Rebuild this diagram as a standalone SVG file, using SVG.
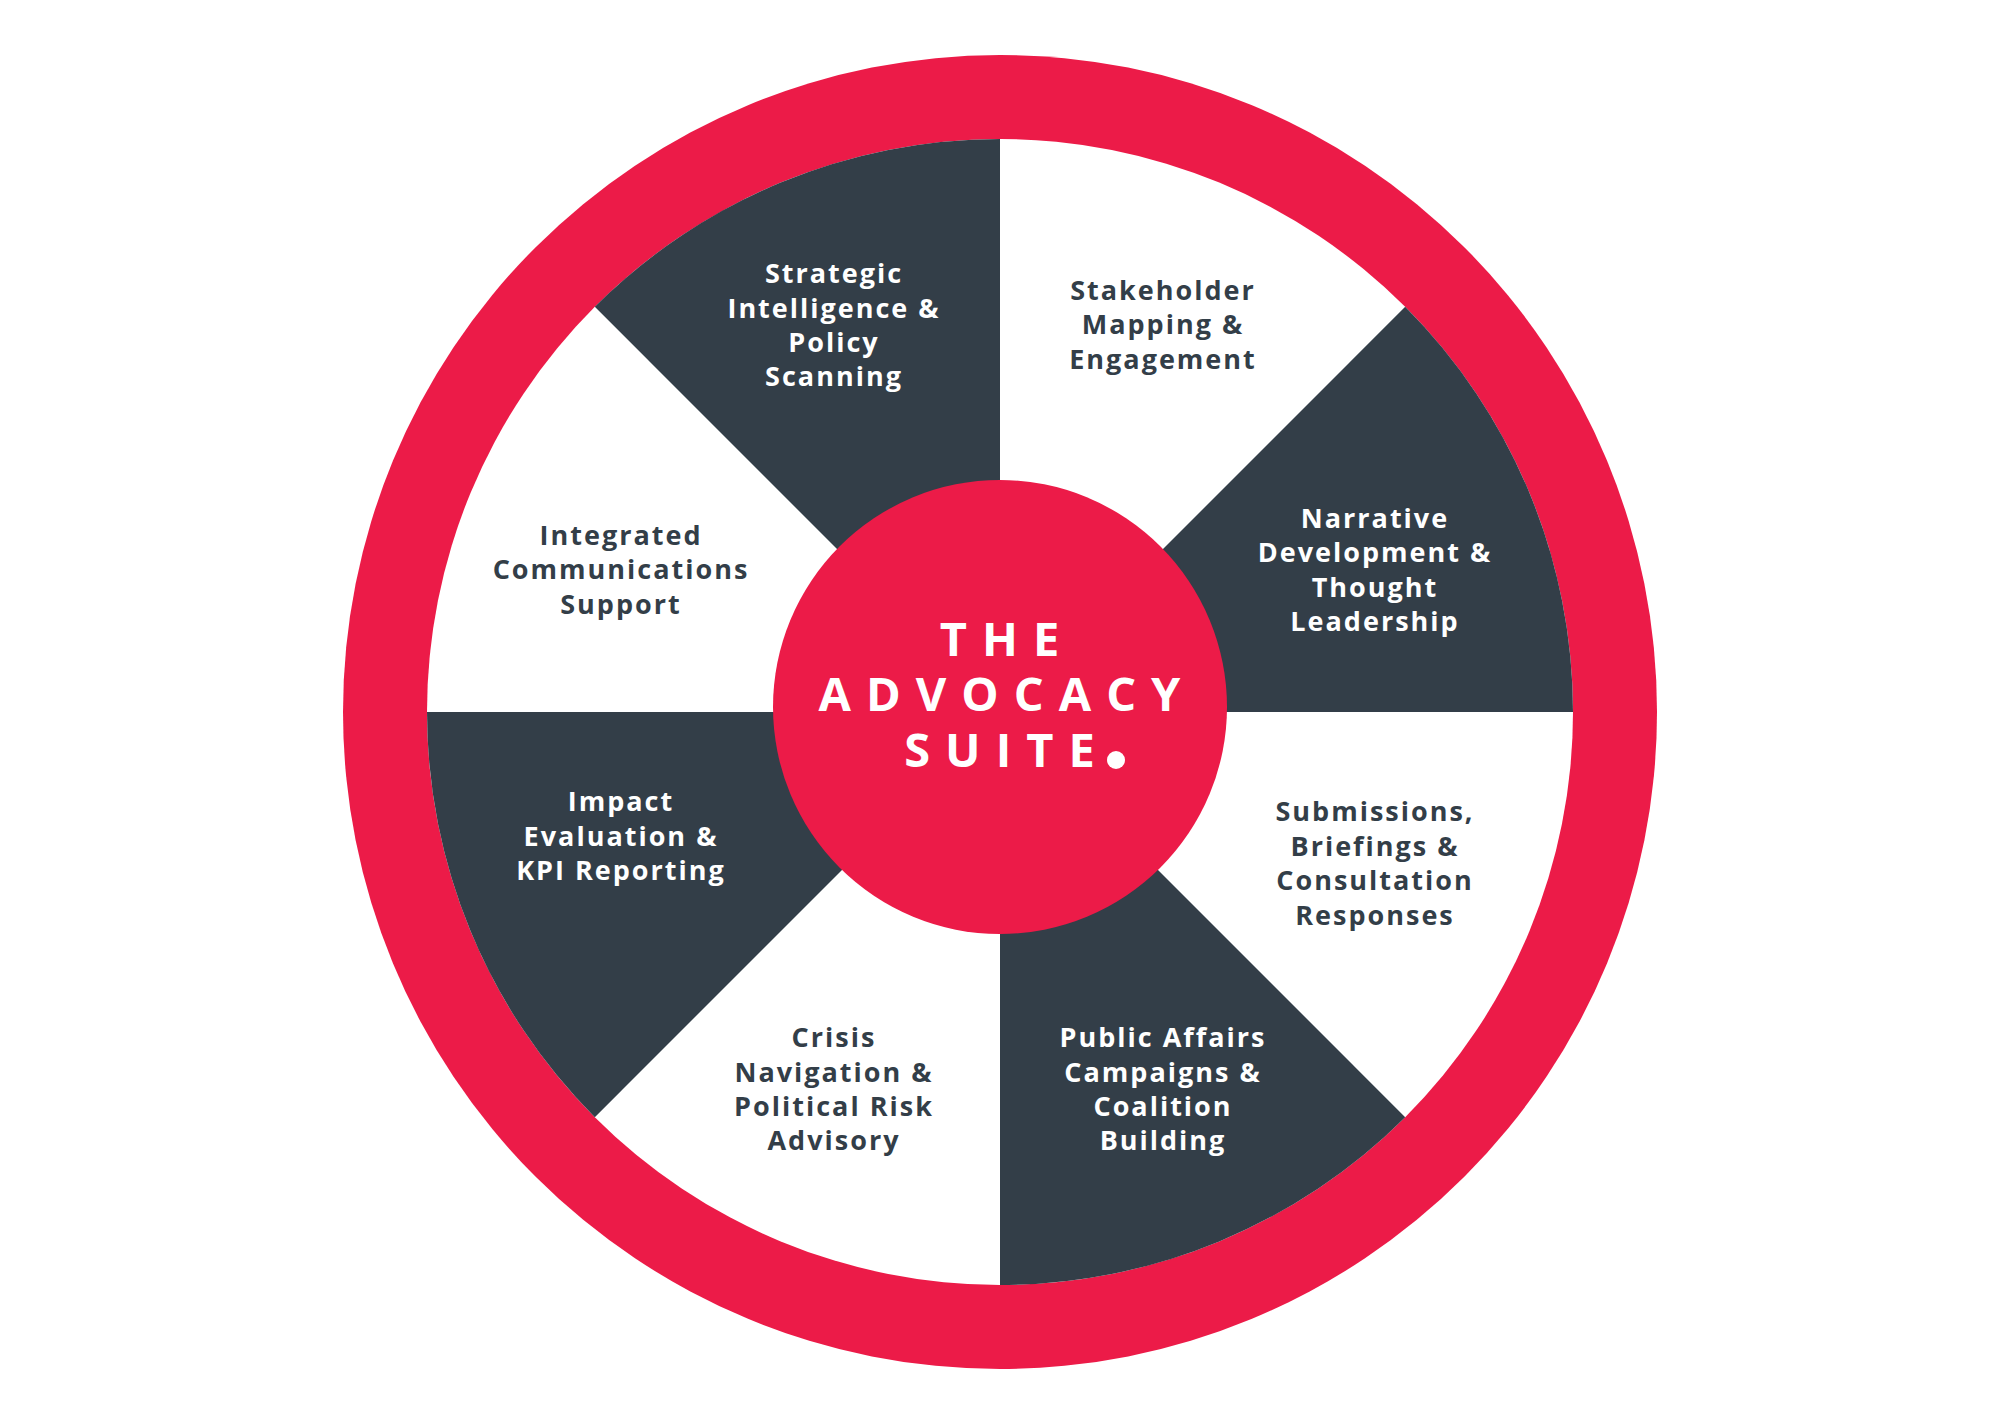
<svg xmlns="http://www.w3.org/2000/svg" width="2000" height="1414" viewBox="0 0 2000 1414">
<style>
.l{font-family:"Open Sans","Liberation Sans",sans-serif;font-weight:700;font-size:27px;letter-spacing:2px;text-anchor:middle}
.d{fill:#333E48}.w{fill:#ffffff}
.t{font-family:"Open Sans","Liberation Sans",sans-serif;font-weight:700;font-size:47px;letter-spacing:15px;fill:#fff;text-anchor:middle}
</style>
<rect width="2000" height="1414" fill="#fff"/>
<g id="ring"><circle cx="1000" cy="712" r="657" fill="#EC1B48"/><circle cx="1000" cy="712" r="573" fill="#fff"/></g>
<g id="sectors" class="d">
<path d="M1000,712 L1000,139 A573,573 0 0 0 594.8,306.8 Z"/>
<path d="M1000,712 L1405.2,306.8 A573,573 0 0 1 1573,712 Z"/>
<path d="M1000,712 L1000,1285 A573,573 0 0 0 1405.2,1117.2 Z"/>
<path d="M1000,712 L427,712 A573,573 0 0 0 594.8,1117.2 Z"/>
</g>
<g id="n1" class="l w"><text x="834" y="283">Strategic</text><text x="834" y="318">Intelligence &amp;</text><text x="834" y="352">Policy</text><text x="834" y="386">Scanning</text></g>
<g id="n2" class="l d"><text x="1163" y="300">Stakeholder</text><text x="1163" y="334">Mapping &amp;</text><text x="1163" y="369">Engagement</text></g>
<g id="n3" class="l w"><text x="1375" y="528">Narrative</text><text x="1375" y="562">Development &amp;</text><text x="1375" y="597">Thought</text><text x="1375" y="631">Leadership</text></g>
<g id="n4" class="l d"><text x="1375" y="821">Submissions,</text><text x="1375" y="856">Briefings &amp;</text><text x="1375" y="890">Consultation</text><text x="1375" y="925">Responses</text></g>
<g id="n5" class="l w"><text x="1163" y="1047">Public Affairs</text><text x="1163" y="1082">Campaigns &amp;</text><text x="1163" y="1116">Coalition</text><text x="1163" y="1150">Building</text></g>
<g id="n6" class="l d"><text x="834" y="1047">Crisis</text><text x="834" y="1082">Navigation &amp;</text><text x="834" y="1116">Political Risk</text><text x="834" y="1150">Advisory</text></g>
<g id="n7" class="l w"><text x="621" y="811">Impact</text><text x="621" y="846">Evaluation &amp;</text><text x="621" y="880">KPI Reporting</text></g>
<g id="n8" class="l d"><text x="621" y="545">Integrated</text><text x="621" y="579">Communications</text><text x="621" y="614">Support</text></g>
<g id="center"><circle cx="1000" cy="707" r="227" fill="#EC1B48"/>
<text class="t" x="1007" y="656">THE</text><text class="t" x="1007" y="711">ADVOCACY</text><text class="t" x="1007" y="767">SUITE</text>
<circle cx="1116" cy="760" r="9" fill="#fff"/></g>
</svg>
